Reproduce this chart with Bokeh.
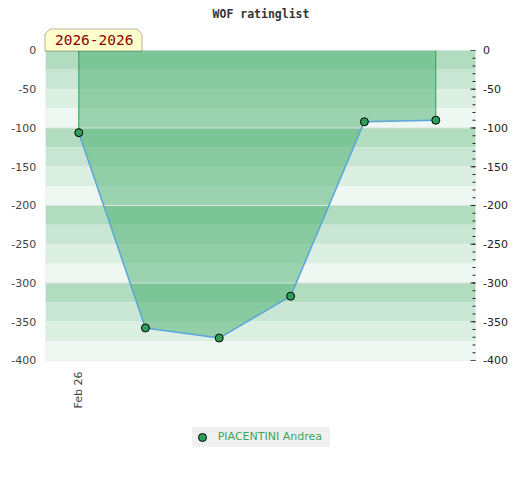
import math
import pandas as pd
from bokeh.plotting import figure
from bokeh.models import (Label, PolyAnnotation, BoxAnnotation, Legend, LegendItem,
                          ColumnDataSource, Range1d)
from bokeh.core.properties import value
from bokeh.embed import file_html
from bokeh.resources import INLINE

# ---- data ----
dates = ["2026-02-01", "2026-03-01", "2026-04-01", "2026-05-01", "2026-06-01", "2026-07-01"]
rating = [-106, -358, -371, -317, -92, -90]
date_tick_labels = ["Feb 26"]
date_tick_positions = ["2026-02-01"]
series_name = "PIACENTINI Andrea"
title_text = "WOF ratinglist"
period_text = "2026-2026"
y_ticks = [0, -50, -100, -150, -200, -250, -300, -350, -400]
y_minor = list(range(-400, 1, 10))
grid_ticks = [-100, -200, -300]

# ---- layout constants ----
W, H = 520, 480
xd = pd.to_datetime(dates)
tick_d = pd.to_datetime(date_tick_positions)
base = xd[0]
D = pd.Timedelta
X0, X1 = base - D(days=13.87), base + D(days=166.7)   # plotting-area edges
YMIN, YMAX = -400, 0

p = figure(width=W, height=H, output_backend="svg", toolbar_location=None,
           x_range=Range1d(base - D(days=32.9), base + D(days=185.6)),
           y_range=Range1d(-554.84, 64.516),
           min_border=0, outline_line_color=None, x_axis_type=None, y_axis_type=None,
           background_fill_color="white", border_fill_color="white")
p.grid.visible = False

# stripes
band_colors = ["#b1dcc0", "#c8e6d3", "#dcefe3", "#eef7f1"]
tops, bots, cols = [], [], []
for i in range(16):
    tops.append(-25 * i)
    bots.append(-25 * (i + 1))
    cols.append(band_colors[i % 4])
p.quad(left=X0, right=X1, top=tops, bottom=bots, fill_color=cols, line_color=None)

src = ColumnDataSource(dict(x=xd, y=rating, z=[0] * len(rating)))
p.varea(x="x", y1="z", y2="y", source=src, fill_color="#47ad6e", fill_alpha=0.5)

# light grid lines every 100
p.segment(x0=X0, x1=X1, y0=grid_ticks, y1=grid_ticks, line_color="#dde4df", line_width=1)

p.segment(x0=[xd[0], xd[-1]], y0=[0, 0], x1=[xd[0], xd[-1]], y1=[rating[0], rating[-1]],
          line_color="#2f9e52", line_width=1)
p.line(x="x", y="y", source=src, line_color="#5aa5dc", line_width=1.5)
r = p.scatter(x="x", y="y", source=src, size=8, fill_color="#2f9e58", line_color="black",
              line_width=1)

# plot-area border
p.add_layout(BoxAnnotation(left=X0, right=X1, top=YMAX, bottom=YMIN, fill_color=None,
                           line_color="#d4d4d4", line_width=1))

# left tick labels
p.text(x=X0, y=y_ticks, text=[str(t) for t in y_ticks], x_offset=-9.5,
       text_align="right", text_baseline="middle", text_font=value("DejaVu Sans"),
       text_font_size="11px", text_color="#444444")
# right ticks & labels
p.ray(x=X1, y=y_ticks, length=5, angle=math.pi, length_units="screen",
      line_color="#222222", line_width=1)
p.ray(x=X1, y=y_minor, length=3, angle=math.pi, length_units="screen",
      line_color="#222222", line_width=1)
p.text(x=X1, y=y_ticks, text=[str(t) for t in y_ticks], x_offset=7.5,
       text_align="left", text_baseline="middle", text_font=value("DejaVu Sans"),
       text_font_size="11px", text_color="#222222")

# x tick label (rotated)
p.text(x=tick_d, y=YMIN, text=date_tick_labels, angle=math.pi / 2, y_offset=11,
       text_align="right", text_baseline="middle", text_font=value("DejaVu Sans"),
       text_font_size="11px", text_color="#444444")

# title
p.add_layout(Label(x=260.5, y=466.7, x_units="screen", y_units="screen",
                   text=title_text, text_font="DejaVu Sans Mono", text_font_style="bold",
                   text_font_size="11.5px", text_color="#333333", text_align="center",
                   text_baseline="middle"))

# period box
bx = [44.5, 44.5, 49.5, 136.5, 141.5, 141.5]
by = [429.5, 446.5, 451.5, 451.5, 446.5, 429.5]
p.add_layout(PolyAnnotation(xs=bx, ys=by, xs_units="screen", ys_units="screen",
                            fill_color="#ffffcc", fill_alpha=1, line_color="black",
                            line_width=1))
p.add_layout(Label(x=93.7, y=440.5, x_units="screen", y_units="screen", text=period_text,
                   text_font="DejaVu Sans Mono", text_font_size="14.5px",
                   text_color="#8b0000", text_align="center", text_baseline="middle"))

legend = Legend(items=[LegendItem(label=series_name, renderers=[r])],
                location=(191.7, 33.3), orientation="horizontal",
                background_fill_color="#f0f0f0", background_fill_alpha=1,
                border_line_color=None, label_text_color="#3aa55a",
                label_text_font="DejaVu Sans", label_text_font_size="11px",
                padding=0, margin=0, glyph_width=20, glyph_height=20, label_height=20,
                label_width=112, label_standoff=6)
p.add_layout(legend, "center")

open("out.html", "w").write(file_html(p, INLINE))
